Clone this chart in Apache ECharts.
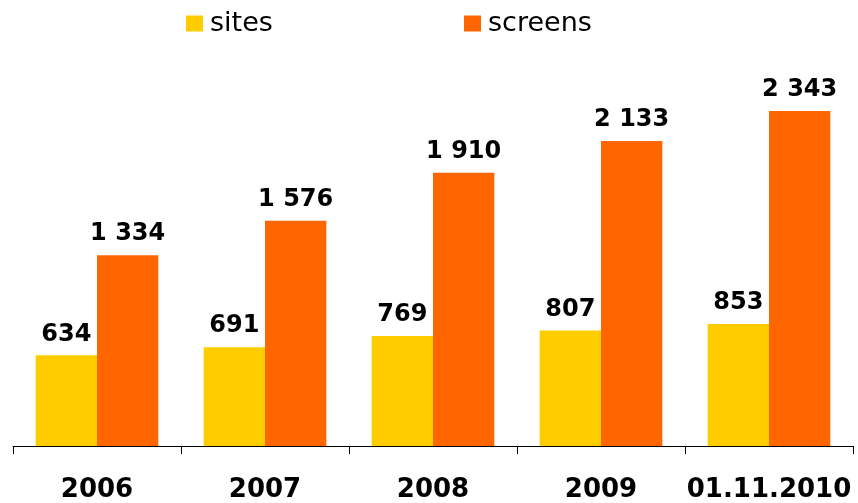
<!DOCTYPE html>
<html>
<head>
<meta charset="utf-8">
<script src="https://cdn.jsdelivr.net/npm/echarts@6/dist/echarts.min.js"></script>
<style>
    html, body { margin: 0; padding: 0; background: #fff; }
    #chart { width: 858px; height: 503px; }
</style>
</head>
<body>
<div id="chart"></div>
<script>
// 数据
const categories = ["2006", "2007", "2008", "2009", "01.11.2010"];
const sites = [634, 691, 769, 807, 853];
const screens = [1334, 1576, 1910, 2133, 2343];

(function () {
    let myChart = echarts.init(document.getElementById("chart"));

    // 千位用空格分隔
    function fmt(p) {
        return String(p.value).replace(/\B(?=(\d{3})+(?!\d))/g, " ");
    }

    let labelStyle = {
        show: true,
        position: "top",
        distance: 9,
        formatter: fmt,
        color: "#000",
        fontFamily: "DejaVu Sans",
        fontWeight: "bold",
        fontSize: 24
    };

    // 图例：两项分开定位
    function legendAt(name, left) {
        return {
            left: left,
            top: 10,
            padding: 0,
            itemWidth: 17,
            itemHeight: 16,
            itemGap: 0,
            icon: "rect",
            textStyle: {
                fontFamily: "DejaVu Sans",
                fontSize: 27,
                color: "#000",
                padding: [0, 0, 0, 2]
            },
            data: [name]
        };
    }

    let option = {
        animation: false,
        legend: [legendAt("sites", 186), legendAt("screens", 464)],
        grid: {
            left: 13,
            right: 5,
            top: 88.5,
            bottom: 55
        },
        xAxis: {
            type: "category",
            data: categories,
            axisLine: { lineStyle: { color: "#000", width: 1 } },
            axisTick: { show: true, interval: 0, length: 8, lineStyle: { color: "#000" } },
            axisLabel: {
                interval: 0,
                margin: 31,
                color: "#000",
                fontFamily: "DejaVu Sans",
                fontWeight: "bold",
                fontSize: 26
            }
        },
        yAxis: {
            type: "value",
            min: 0,
            max: 2500,
            show: false,
            splitLine: { show: false }
        },
        series: [
            {
                name: "sites",
                type: "bar",
                data: sites,
                barGap: "0%",
                barCategoryGap: "27%",
                itemStyle: { color: "#FFCC00" },
                label: labelStyle
            },
            {
                name: "screens",
                type: "bar",
                data: screens,
                barGap: "0%",
                barCategoryGap: "27%",
                itemStyle: { color: "#FF6600" },
                label: labelStyle
            }
        ]
    };

    myChart.setOption(option);
    window.addEventListener("resize", function () {
        myChart.resize();
    });
})();
</script>
</body>
</html>
